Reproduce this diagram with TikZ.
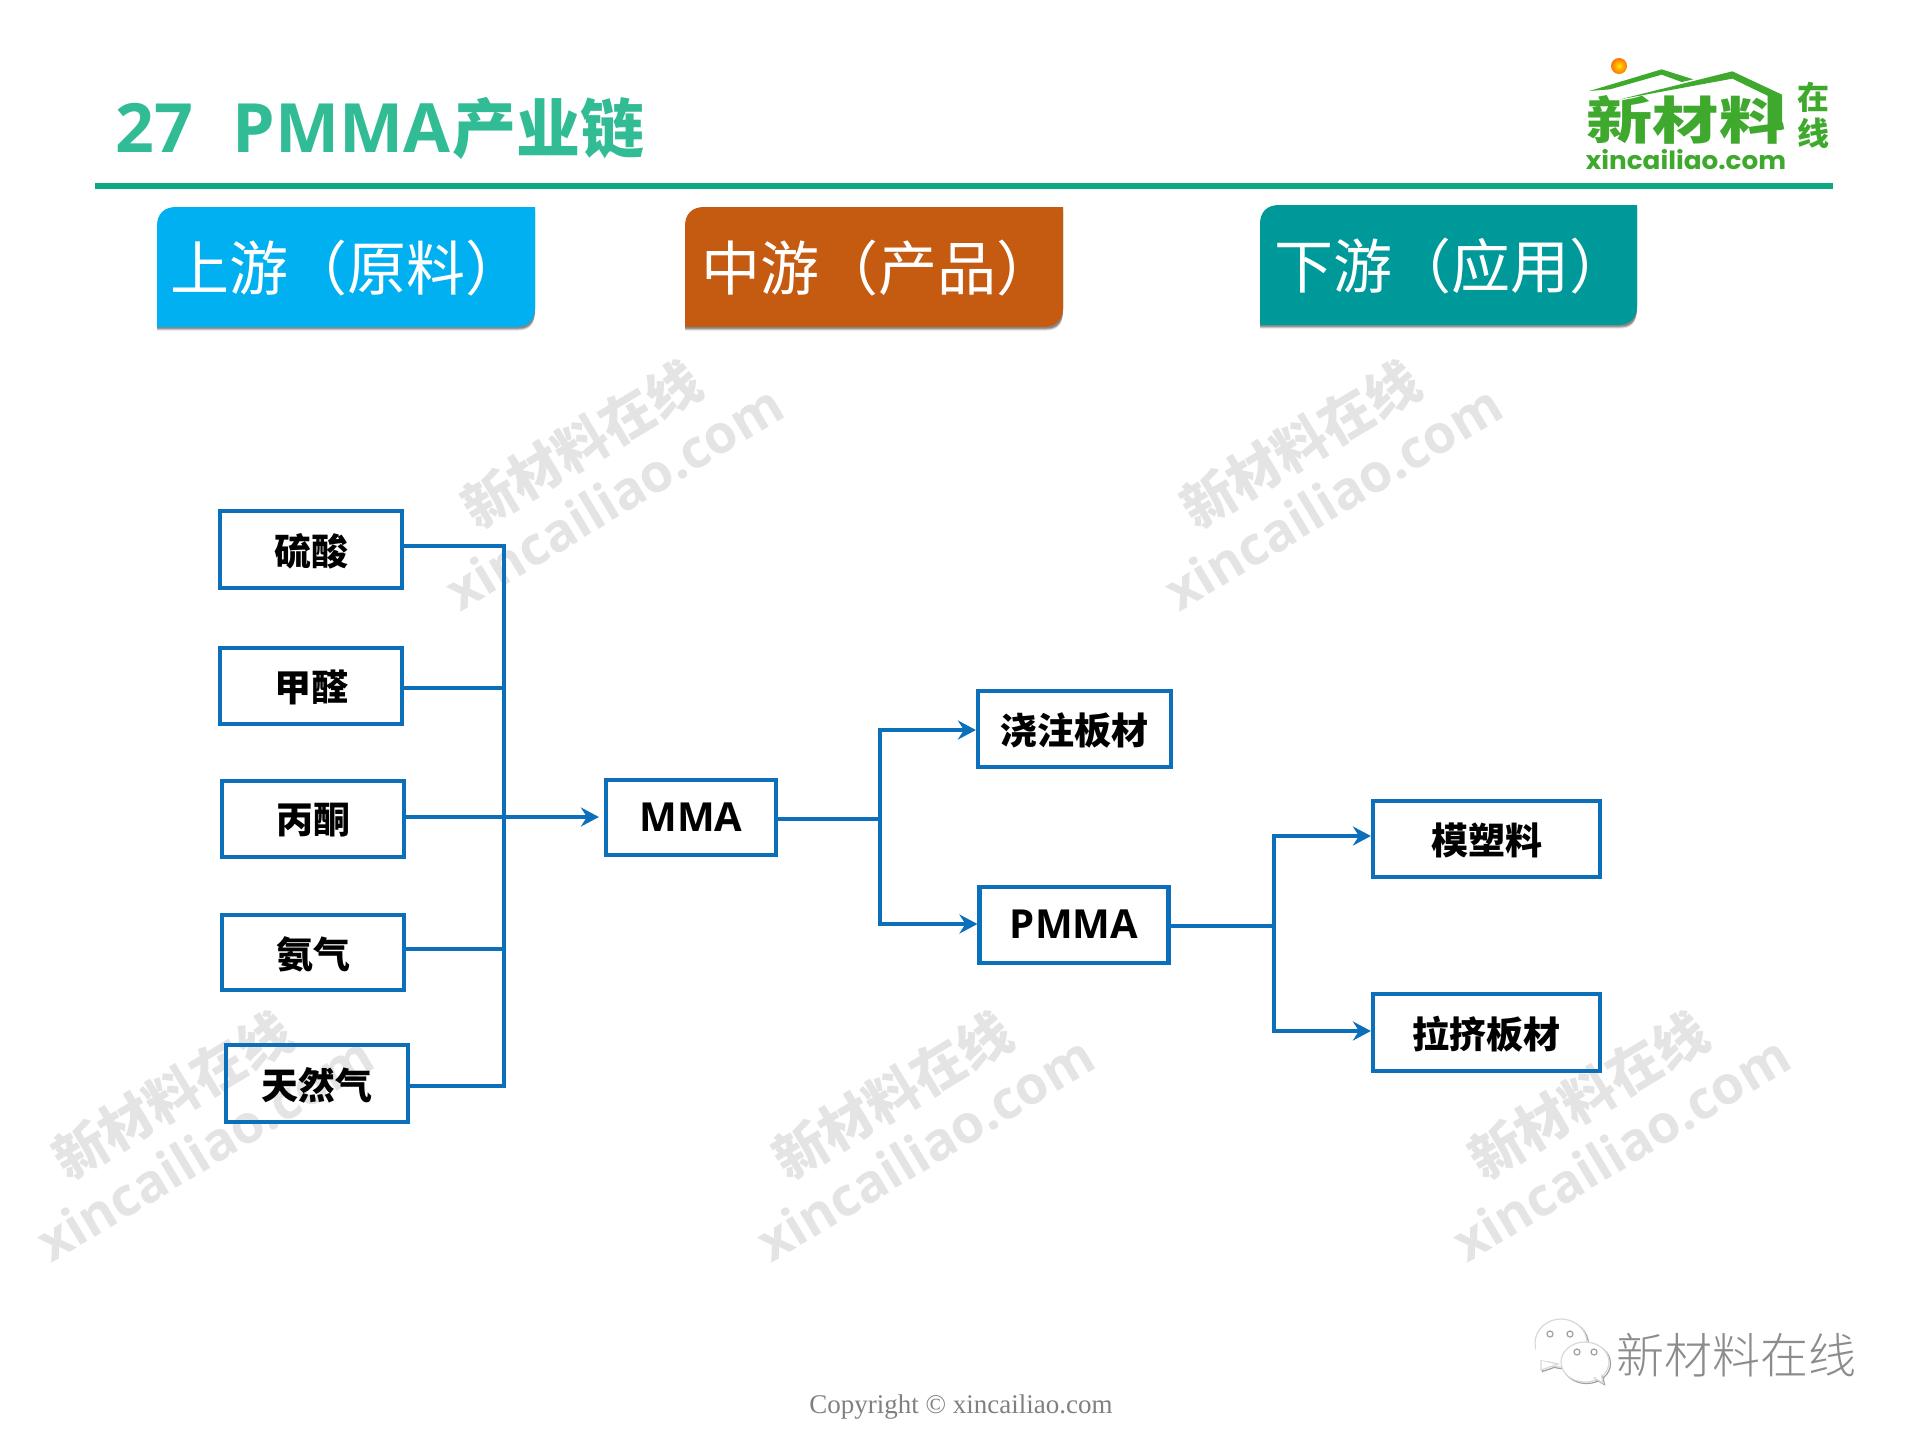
\documentclass[tikz,border=0pt]{standalone}
\usepackage{fontspec}
\usetikzlibrary{arrows.meta,calc}
\newfontfamily\cjk{Noto Sans CJK SC}
\newfontfamily\cjkmed{Noto Sans CJK SC Medium}
\newfontfamily\cjklight{Noto Sans CJK SC Light}
\newfontfamily\wmlatin{Open Sans}
\newfontfamily\logolatin{Poppins}
\newfontfamily\serifcopy{Liberation Serif}
\definecolor{linkblue}{HTML}{0B6FBA}
\definecolor{titlegreen}{HTML}{32BC96}
\definecolor{rulegreen}{HTML}{0CA982}
\definecolor{headblue}{HTML}{00B0F0}
\definecolor{headorange}{HTML}{C55A11}
\definecolor{headteal}{HTML}{00999A}
\definecolor{logogreen}{HTML}{3FA92E}
\definecolor{wmgray}{HTML}{E4E4E4}
\newcommand{\lowr}[1]{\raisebox{-0.7pt}[\height][\depth]{#1}}
\newcommand{\highr}[1]{\raisebox{0.4pt}[\height][\depth]{#1}}
\tikzset{
  flowbox/.style={draw=linkblue,line width=2.1pt,inner sep=0pt,font=\cjk\bfseries\fontsize{18.5}{20}\selectfont,text=black},
  flowlatin/.style={flowbox,font=\wmlatin\bfseries\fontsize{20}{22}\selectfont},
  link/.style={draw=linkblue,line width=1.9pt},
  arrowed/.style={link,-{Stealth[length=9pt,width=9.5pt,inset=3pt]}},
  headtext/.style={anchor=west,inner sep=0pt,text=white,font=\cjk\fontsize{29.5}{31}\selectfont},
  wmcn/.style={text=wmgray,rotate=31,inner sep=0pt,font=\cjk\bfseries\fontsize{26.7}{28}\selectfont},
  wmen/.style={text=wmgray,rotate=31,inner sep=0pt,font=\wmlatin\bfseries\fontsize{26.5}{28}\selectfont},
}
\newcommand{\headbox}[5]{% x1 y1 x2 y2 colour
  \foreach \dd/\op in {3.5/.12,2.5/.18,1.5/.25}{
    \fill[black,opacity=\op] (#1+0,#2+\dd+19) -- (#1+0,#4+\dd) -- (#3-16,#4+\dd) .. controls (#3-6,#4+\dd) and (#3,#4+\dd-6) .. (#3,#4+\dd-19) -- (#3,#2+\dd) -- (#1+19,#2+\dd) -- cycle;
  }
  \fill[#5] (#1,#2+19) .. controls (#1,#2+7) and (#1+7,#2) .. (#1+19,#2) -- (#3,#2) -- (#3,#4-19) .. controls (#3,#4-7) and (#3-7,#4) .. (#3-19,#4) -- (#1,#4) -- cycle;
}
\begin{document}
\begin{tikzpicture}[x=0.5pt,y=-0.5pt]
\useasboundingbox (0,0) rectangle (1920,1440);
\fill[white] (0,0) rectangle (1920,1440);

% watermarks
\foreach \dx/\dy/\n in {0/0/a,719/0/b,-409/651/c,311/651/d,1007/651/e}{
  \node[wmcn] (wmcn\n) at (581+\dx,444+\dy) {新材料在线};
  \node[wmen] (wmen\n) at (614+\dx,497+\dy) {xincailiao.com};
}

% title
\node[anchor=base west,inner sep=0pt,text=titlegreen,font=\wmlatin\bfseries\fontsize{34}{36}\selectfont] (title) at (115,152) {27\hspace{0.58em}PMMA{\hspace{1pt}\cjkmed\fontsize{32}{36}\selectfont 产业链}};
\fill[rulegreen] (95,183) rectangle (1833,189);

% logo
\shade[inner color=yellow!80!orange,outer color=orange!90!red] (1619,66) circle (8);
\begin{scope}[shift={(1500,30)},x=0.16667pt,y=-0.16667pt]
  \fill[logogreen] (268,183) -- (485,118) -- (580,148) -- (545,156) -- (485,134) -- (330,178) -- cycle;
  \fill[logogreen] (360,208) -- (697,124) -- (846,194) -- (846,300) -- (825,300) -- (825,208) -- (697,146) -- cycle;
\end{scope}
\node[inner sep=0pt,text=logogreen,xscale=1.3,font=\cjk\bfseries\fontsize{25.5}{26}\selectfont] (logocn) at (1686,120) {新材料};
\node[inner sep=0pt,text=logogreen,font=\cjk\bfseries\fontsize{16}{17}\selectfont] (logozai) at (1813,97) {在};
\node[inner sep=0pt,text=logogreen,font=\cjk\bfseries\fontsize{16}{17}\selectfont] (logoxian) at (1813,133) {线};
\node[inner sep=0pt,text=logogreen,xscale=1.05,font=\logolatin\bfseries\fontsize{12.5}{13}\selectfont] (logoen) at (1686,160) {xincailiao.com};

% headers
\headbox{157}{207}{535}{327}{headblue}
\node[headtext] (headup) at (170,268) {上游（原料）};
\headbox{685}{207}{1063}{327}{headorange}
\node[headtext] (headmid) at (701,268) {中游（产品）};
\headbox{1260}{205}{1637}{325}{headteal}
\node[headtext] (headdown) at (1274,266) {下游（应用）};

% boxes
\node[flowbox,minimum width=91pt,minimum height=38.5pt] (liusuan) at (311,549.5) {\lowr{硫酸}};
\node[flowbox,minimum width=91pt,minimum height=38pt] (jiaquan) at (311,686) {\lowr{甲醛}};
\node[flowbox,minimum width=91pt,minimum height=38pt] (bingtong) at (313,819) {\lowr{丙酮}};
\node[flowbox,minimum width=91pt,minimum height=37.5pt] (anqi) at (313,952.5) {\lowr{氨气}};
\node[flowbox,minimum width=91pt,minimum height=38.5pt] (tianran) at (317,1083.5) {\lowr{天然气}};
\node[flowlatin,minimum width=85pt,minimum height=37.5pt] (mma) at (691,817.5) {MMA};
\node[flowbox,minimum width=96.5pt,minimum height=38pt] (jiaozhu) at (1074.5,729) {\lowr{浇注板材}};
\node[flowlatin,minimum width=94.5pt,minimum height=38pt] (pmma) at (1074,925) {\highr{PMMA}};
\node[flowbox,minimum width=113.5pt,minimum height=38pt] (mosu) at (1486.5,839) {\lowr{模塑料}};
\node[flowbox,minimum width=113.5pt,minimum height=38.5pt] (laji) at (1486.5,1032.5) {\lowr{拉挤板材}};

% connectors
\coordinate (busa) at (504,546);
\coordinate (busb) at (504,688);
\coordinate (busc) at (504,817);
\coordinate (busd) at (504,949);
\coordinate (buse) at (504,1086);
\draw[link,line join=miter] (liusuan.east |- busa) -- (busa) -- (buse) -- (tianran.east |- buse);
\draw[link] (jiaquan.east |- busb) -- (busb);
\draw[link] (anqi.east |- busd) -- (busd);
\draw[arrowed,shorten >=2.5pt] (bingtong.east |- busc) -- (mma.west |- busc);

\coordinate (splita) at (880,730);
\coordinate (splitb) at (880,819);
\coordinate (splitc) at (880,924);
\draw[link] (mma.east |- splitb) -- (splitb);
\draw[arrowed] (splitc) -- (splita) -- (jiaozhu.west |- splita);
\draw[arrowed] (splita) -- (splitc) -- (pmma.west |- splitc);

\coordinate (splitd) at (1274,836);
\coordinate (splite) at (1274,926);
\coordinate (splitf) at (1274,1031);
\draw[link] (pmma.east |- splite) -- (splite);
\draw[arrowed] (splitf) -- (splitd) -- (mosu.west |- splitd);
\draw[arrowed] (splitd) -- (splitf) -- (laji.west |- splitf);

% wechat mark
\foreach \off/\col in {1.5/gray!75,0/gray!30}{
  \filldraw[fill=white,draw=\col,line width=0.6pt] (1561+\off,1343+\off) ellipse [x radius=26,y radius=24];
  \filldraw[fill=white,draw=\col,line width=0.6pt] (1541+\off,1360+\off) -- (1541+\off,1370+\off) -- (1558+\off,1364+\off) -- cycle;
}
\fill[white] (1547,1352) ellipse [x radius=12,y radius=9];
\foreach \x/\y in {1550/1334,1570/1334}{
  \draw[gray!75,line width=0.6pt] (\x,\y) circle (3);
}
\foreach \off/\col in {1.5/gray!75,0/gray!30}{
  \filldraw[fill=white,draw=\col,line width=0.6pt] (1585+\off,1362+\off) ellipse [x radius=24,y radius=20];
  \filldraw[fill=white,draw=\col,line width=0.6pt] (1594+\off,1378+\off) -- (1603+\off,1383+\off) -- (1601+\off,1374+\off) -- cycle;
}
\fill[white] (1597,1373) circle (5);
\foreach \x/\y in {1577/1352,1594/1352}{
  \draw[gray!75,line width=0.6pt] (\x,\y) circle (3);
}
\node[inner sep=0pt,text=black!45,font=\cjklight\fontsize{24}{25}\selectfont] (wechat) at (1736,1355) {新材料在线};

% copyright
\node[anchor=base,inner sep=0pt,text=black!50,font=\serifcopy\fontsize{13.5}{15}\selectfont] (copy) at (961,1413) {Copyright © xincailiao.com};
\end{tikzpicture}
\end{document}
